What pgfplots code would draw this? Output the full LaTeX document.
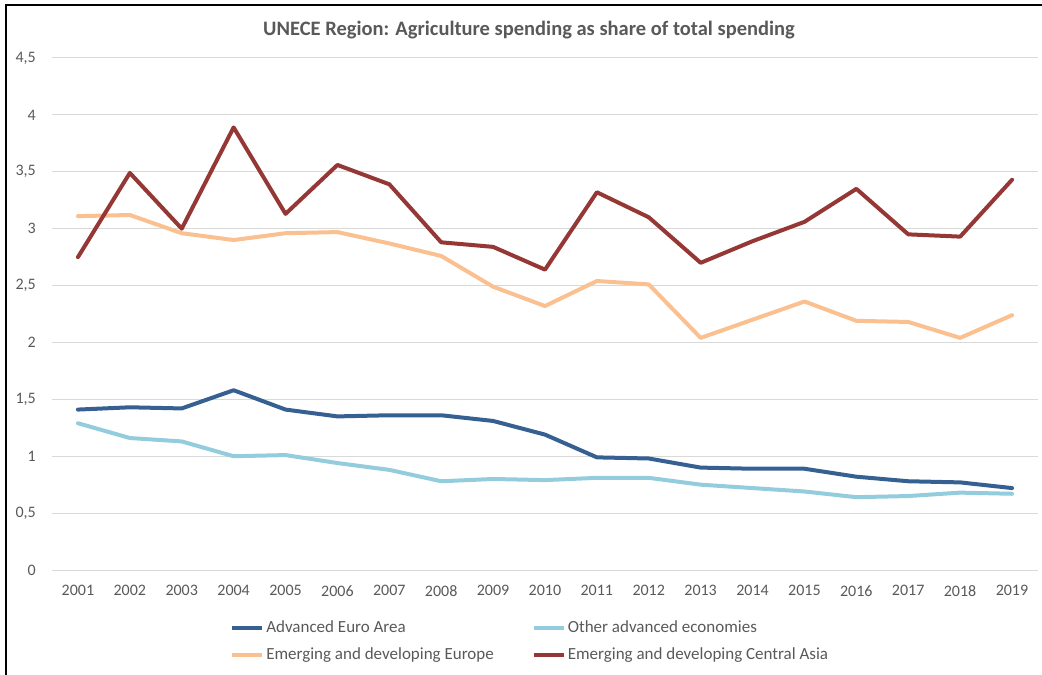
\documentclass[border=0pt]{standalone}
\usepackage{pgfplots}
\pgfplotsset{compat=1.18}
\usepackage{fontspec}
\setmainfont{Carlito}
\definecolor{txt}{HTML}{595959}
\definecolor{gridc}{HTML}{D9D9D9}
\definecolor{euro}{HTML}{366092}
\definecolor{other}{HTML}{93CDDD}
\definecolor{europe}{HTML}{FAC090}
\definecolor{asia}{HTML}{953735}
\begin{document}
\begin{tikzpicture}
\path[use as bounding box] (-52pt,-105pt) rectangle (990pt,570pt);
\begin{axis}[
  at={(0pt,0pt)}, anchor=south west,
  scale only axis, width=986pt, height=512pt,
  xmin=2000.5, xmax=2019.5, ymin=0, ymax=4.5,
  xtick={2001,2002,...,2019},
  ytick={0,0.5,1,1.5,2,2.5,3,3.5,4,4.5},
  major tick length=0pt,
  axis line style={draw=none},
  ymajorgrids, grid style={draw=gridc, line width=1pt},
  /pgf/number format/use comma,
  /pgf/number format/1000 sep={},
  /pgf/number format/assume math mode=true,
  tick label style={font=\fontsize{16}{19}\selectfont, text=txt},
  yticklabel style={anchor=east, inner sep=0pt, xshift=-16pt},
  xticklabel style={anchor=north, inner sep=0pt, yshift=-15pt},
  title={UNECE Region: Agriculture spending as share of total spending},
  title style={at={(axis description cs:0.4838,1)}, anchor=base, yshift=16pt,
    font=\fontsize{20.5}{24}\selectfont\bfseries, text=txt, inner sep=0pt},
  legend columns=2,
  legend cell align=left,
  legend style={at={(axis description cs:0.1806,0)}, anchor=north west, yshift=-50pt,
    draw=none, fill=none, inner sep=0pt, font=\fontsize{17}{20}\selectfont, text=txt,
    nodes={inner sep=0pt, text height=12pt, text depth=4pt}, row sep=11pt,
    /tikz/every even column/.append style={column sep=38pt},
    /tikz/every odd column/.append style={column sep=2pt}},
  legend image code/.code={\draw[#1, line width=4pt, line cap=butt] (0pt,0pt) -- (30pt,0pt);},
  every axis plot/.append style={line width=4pt, line join=round, line cap=round, mark=none},
]
\addplot[euro] coordinates {
(2001,1.41) (2002,1.43) (2003,1.42) (2004,1.58) (2005,1.41) (2006,1.35) (2007,1.36)
(2008,1.36) (2009,1.31) (2010,1.19) (2011,0.99) (2012,0.98) (2013,0.90) (2014,0.89)
(2015,0.89) (2016,0.82) (2017,0.78) (2018,0.77) (2019,0.72)};
\addlegendentry{Advanced Euro Area}
\addplot[other] coordinates {
(2001,1.29) (2002,1.16) (2003,1.13) (2004,1.00) (2005,1.01) (2006,0.94) (2007,0.88)
(2008,0.78) (2009,0.80) (2010,0.79) (2011,0.81) (2012,0.81) (2013,0.75) (2014,0.72)
(2015,0.69) (2016,0.64) (2017,0.65) (2018,0.68) (2019,0.67)};
\addlegendentry{Other advanced economies}
\addplot[europe] coordinates {
(2001,3.11) (2002,3.12) (2003,2.96) (2004,2.90) (2005,2.96) (2006,2.97) (2007,2.87)
(2008,2.76) (2009,2.49) (2010,2.32) (2011,2.54) (2012,2.51) (2013,2.04) (2014,2.20)
(2015,2.36) (2016,2.19) (2017,2.18) (2018,2.04) (2019,2.24)};
\addlegendentry{Emerging and developing Europe}
\addplot[asia] coordinates {
(2001,2.75) (2002,3.49) (2003,3.00) (2004,3.89) (2005,3.13) (2006,3.56) (2007,3.39)
(2008,2.88) (2009,2.84) (2010,2.64) (2011,3.32) (2012,3.10) (2013,2.70) (2014,2.89)
(2015,3.06) (2016,3.35) (2017,2.95) (2018,2.93) (2019,3.43)};
\addlegendentry{Emerging and developing Central Asia}
\end{axis}
\draw[line width=2pt] (-46pt,-105pt) -- (-46pt,565pt) -- (990pt,565pt);
\end{tikzpicture}
\end{document}
